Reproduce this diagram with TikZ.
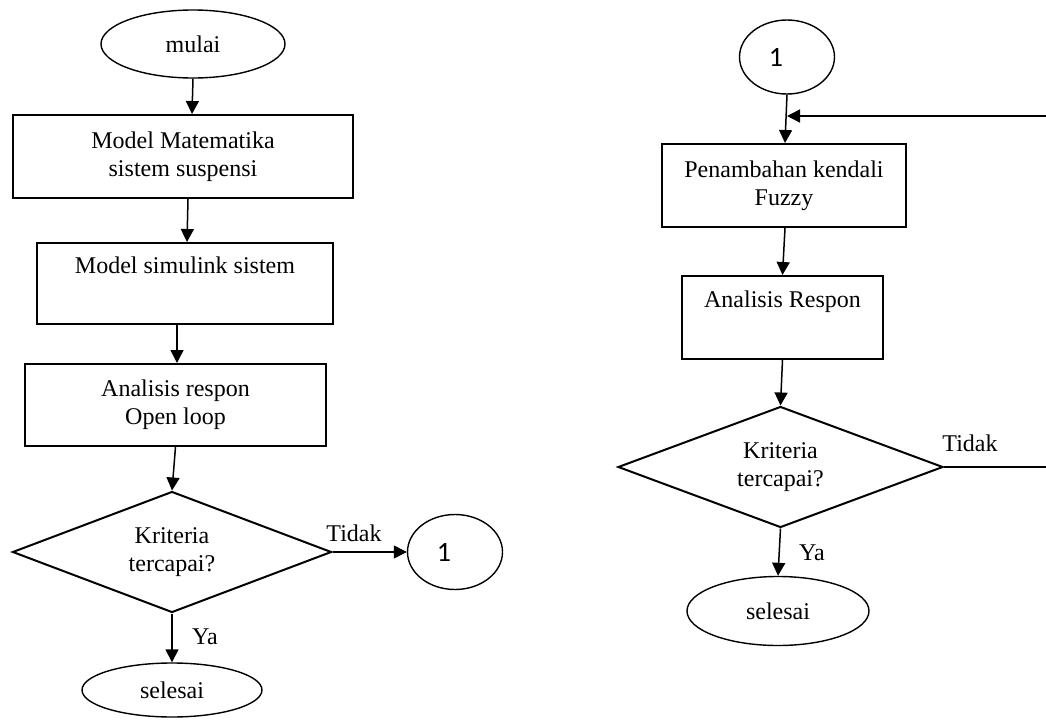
\documentclass[tikz,border=0pt]{standalone}
\usepackage{fontspec}
\setmainfont{Liberation Serif}
\newfontfamily\numfont{Carlito}
\usetikzlibrary{shapes.geometric,arrows.meta}
\begin{document}
\begin{tikzpicture}[x=0.5pt,y=-0.5pt,
  font=\fontsize{12}{14}\selectfont,
  procbox/.style={draw,line width=1pt,align=center,inner sep=0pt},
  term/.style={draw,ellipse,line width=0.7pt,inner sep=0pt},
  decide/.style={draw,diamond,line width=1pt,align=center,inner sep=0pt,aspect=2.6},
  conn/.style={draw,ellipse,line width=0.7pt,inner sep=0pt,font=\numfont\fontsize{14}{16}\selectfont},
  flow/.style={line width=0.75pt,-{Triangle[length=6.5pt,width=6.5pt]}},
  plainline/.style={line width=0.75pt},
  lbl/.style={inner sep=0pt}]
\useasboundingbox (0,0) rectangle (1046,724);
% left column
\node[term,minimum width=92pt,minimum height=34pt] (mulai) at (193,44) {mulai};
\node[procbox,minimum width=170pt,minimum height=41.5pt] (b1) at (183,156.5) {Model Matematika\\sistem suspensi};
\node[procbox,minimum width=148pt,minimum height=40.5pt] (b2) at (185,283.5) {Model simulink sistem\\\strut};
\node[procbox,minimum width=150.5pt,minimum height=41pt] (b3) at (175.5,405) {Analisis respon\\Open loop};
\node[decide,minimum width=159.5pt,minimum height=60.5pt] (d1) at (172,552) {Kriteria\\tercapai?};
\node[conn,minimum width=47.5pt,minimum height=37.5pt] (c1) at (455,552) {1\hspace*{11pt}};
\node[term,minimum width=90pt,minimum height=27pt] (s1) at (172,690) {selesai};
\draw[flow] (mulai.south) -- ([xshift=4.5pt]b1.north);
\draw[flow] ([xshift=2.5pt]b1.south) -- ([xshift=1pt]b2.north);
\draw[flow] ([xshift=-4pt]b2.south) -- ([xshift=0.75pt]b3.north);
\draw[flow] (b3.south) -- (d1.north);
\draw[flow] (d1.east) -- (c1.west);
\draw[flow] (d1.south) -- (s1.north);
\node[lbl] (t1) at (354,533) {Tidak};
\node[lbl] (y1) at (205,637) {Ya};
% right column
\node[conn,minimum width=47.5pt,minimum height=37pt] (c2) at (787,57) {1\hspace*{11pt}};
\node[procbox,minimum width=122pt,minimum height=41.5pt] (b4) at (784,185.5) {Penambahan kendali\\Fuzzy};
\node[procbox,minimum width=100.5pt,minimum height=41.5pt] (b5) at (782.5,317.5) {Analisis Respon\\\strut};
\node[decide,minimum width=162.5pt,minimum height=60.5pt] (d2) at (780.5,467) {Kriteria\\tercapai?};
\node[term,minimum width=91pt,minimum height=34.5pt] (s2) at (778,611) {selesai};
\coordinate (fbin) at (1046,116);
\coordinate (fbout) at (1046,467);
\draw[flow] (c2.south) -- ([xshift=0.5pt]b4.north);
\draw[flow] (fbin) -- (fbin -| c2.south);
\draw[flow] ([xshift=0.5pt]b4.south) -- (b5.north);
\draw[flow] (b5.south) -- (d2.north);
\draw[flow] (d2.south) -- (s2.north);
\draw[plainline] (d2.east) -- (fbout);
\node[lbl] (t2) at (970,443) {Tidak};
\node[lbl] (y2) at (812,553) {Ya};
\end{tikzpicture}
\end{document}
